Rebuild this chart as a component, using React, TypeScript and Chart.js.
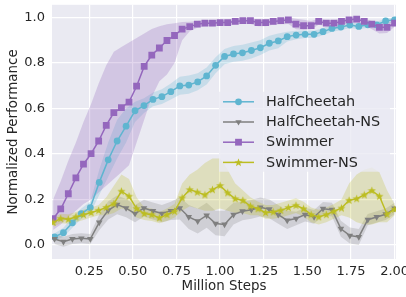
import React, { useEffect, useRef } from "react";
import { Chart, registerables } from "chart.js";

Chart.register(...registerables);

// ---------------- data ----------------
const SERIES_NAMES = ["HalfCheetah", "HalfCheetah-NS", "Swimmer", "Swimmer-NS"];
const X_TITLE = "Million Steps";
const Y_TITLE = "Normalized Performance";
const X_TICKS = [0.25, 0.5, 0.75, 1.0, 1.25, 1.5, 1.75, 2.0];
const Y_TICKS = [0.0, 0.2, 0.4, 0.6, 0.8, 1.0];

// HalfCheetah runs evaluated 39 times over 2M steps, Swimmer runs 46 times
const HC_EVALS = 39;
const SW_EVALS = 46;
const TOTAL_MILLION_STEPS = 2.0;

const hcPerf = [0.035, 0.054, 0.097, 0.138, 0.164, 0.275, 0.374, 0.457, 0.522, 0.590,
  0.613, 0.640, 0.652, 0.674, 0.699, 0.703, 0.717, 0.743, 0.790, 0.829,
  0.840, 0.845, 0.855, 0.867, 0.887, 0.897, 0.916, 0.923, 0.926, 0.926,
  0.938, 0.952, 0.958, 0.967, 0.961, 0.968, 0.968, 0.985, 0.990];
const hcLow = [0.02, 0.035, 0.075, 0.115, 0.14, 0.22, 0.30, 0.38, 0.45, 0.54,
  0.58, 0.61, 0.62, 0.64, 0.66, 0.665, 0.68, 0.705, 0.755, 0.795,
  0.805, 0.81, 0.82, 0.835, 0.855, 0.865, 0.895, 0.905, 0.91, 0.91,
  0.922, 0.937, 0.944, 0.954, 0.948, 0.955, 0.955, 0.972, 0.978];
const hcHigh = [0.05, 0.075, 0.12, 0.16, 0.19, 0.33, 0.45, 0.55, 0.60, 0.63,
  0.645, 0.67, 0.685, 0.71, 0.74, 0.745, 0.755, 0.78, 0.825, 0.862,
  0.875, 0.88, 0.89, 0.90, 0.92, 0.93, 0.937, 0.942, 0.943, 0.942,
  0.954, 0.967, 0.972, 0.98, 0.974, 0.981, 0.981, 0.996, 1.0];

const hcnsPerf = [0.026, 0.014, 0.026, 0.029, 0.026, 0.099, 0.152, 0.177, 0.162, 0.138,
  0.162, 0.149, 0.138, 0.150, 0.162, 0.123, 0.104, 0.130, 0.094, 0.090,
  0.133, 0.148, 0.155, 0.165, 0.157, 0.133, 0.108, 0.116, 0.133, 0.123,
  0.159, 0.155, 0.071, 0.041, 0.035, 0.111, 0.123, 0.135, 0.160];
const hcnsLow = [0.004, -0.008, 0.004, 0.007, 0.004, 0.064, 0.112, 0.135, 0.122, 0.100,
  0.125, 0.112, 0.10, 0.11, 0.112, 0.07, 0.05, 0.075, 0.042, 0.038,
  0.09, 0.108, 0.115, 0.125, 0.117, 0.093, 0.07, 0.086, 0.103, 0.093,
  0.129, 0.125, 0.036, 0.006, 0.0, 0.086, 0.098, 0.11, 0.135];
const hcnsHigh = [0.048, 0.036, 0.048, 0.051, 0.048, 0.134, 0.192, 0.217, 0.202, 0.176,
  0.199, 0.186, 0.176, 0.19, 0.21, 0.175, 0.16, 0.185, 0.15, 0.15,
  0.185, 0.19, 0.198, 0.208, 0.2, 0.175, 0.15, 0.146, 0.163, 0.153,
  0.189, 0.185, 0.106, 0.076, 0.07, 0.136, 0.148, 0.16, 0.185];

const swPerf = [0.115, 0.158, 0.225, 0.295, 0.355, 0.401, 0.457, 0.526, 0.582, 0.604,
  0.628, 0.698, 0.785, 0.835, 0.866, 0.899, 0.921, 0.949, 0.960, 0.971,
  0.975, 0.975, 0.978, 0.978, 0.983, 0.986, 0.986, 0.978, 0.978, 0.983,
  0.986, 0.990, 0.971, 0.964, 0.964, 0.983, 0.975, 0.975, 0.983, 0.990,
  0.993, 0.983, 0.971, 0.957, 0.957, 0.975];
const swLow = [0.065, 0.09, 0.12, 0.15, 0.18, 0.20, 0.23, 0.26, 0.29, 0.32,
  0.35, 0.45, 0.55, 0.65, 0.72, 0.75, 0.80, 0.90, 0.94, 0.955,
  0.962, 0.962, 0.965, 0.965, 0.97, 0.972, 0.972, 0.962, 0.962, 0.968,
  0.97, 0.972, 0.948, 0.945, 0.948, 0.968, 0.962, 0.962, 0.97, 0.975,
  0.978, 0.965, 0.948, 0.93, 0.932, 0.96];
const swHigh = [0.20, 0.28, 0.37, 0.45, 0.54, 0.62, 0.71, 0.79, 0.85, 0.87,
  0.89, 0.91, 0.93, 0.95, 0.962, 0.97, 0.975, 0.98, 0.982, 0.985,
  0.988, 0.988, 0.99, 0.99, 0.995, 0.998, 0.998, 0.99, 0.99, 0.995,
  0.998, 1.0, 0.995, 0.99, 0.985, 0.995, 0.988, 0.988, 0.995, 1.0,
  1.003, 0.995, 0.985, 0.975, 0.975, 0.99];

const swnsPerf = [0.099, 0.116, 0.113, 0.123, 0.133, 0.142, 0.152, 0.165, 0.181, 0.236,
  0.214, 0.160, 0.138, 0.133, 0.119, 0.133, 0.148, 0.207, 0.243, 0.232,
  0.220, 0.243, 0.261, 0.229, 0.203, 0.196, 0.171, 0.159, 0.142, 0.145,
  0.152, 0.164, 0.174, 0.159, 0.133, 0.123, 0.133, 0.148, 0.162, 0.196,
  0.203, 0.220, 0.239, 0.214, 0.135, 0.157];
const swnsLow = [0.08, 0.095, 0.093, 0.10, 0.11, 0.12, 0.13, 0.13, 0.14, 0.16,
  0.15, 0.12, 0.11, 0.105, 0.095, 0.105, 0.12, 0.15, 0.17, 0.16,
  0.15, 0.15, 0.16, 0.15, 0.14, 0.14, 0.13, 0.13, 0.115, 0.115,
  0.12, 0.13, 0.14, 0.125, 0.10, 0.09, 0.10, 0.115, 0.13, 0.12,
  0.10, 0.09, 0.09, 0.10, 0.10, 0.13];
const swnsHigh = [0.12, 0.137, 0.135, 0.145, 0.155, 0.165, 0.175, 0.21, 0.26, 0.31,
  0.29, 0.21, 0.165, 0.16, 0.145, 0.16, 0.18, 0.27, 0.31, 0.33,
  0.36, 0.38, 0.38, 0.33, 0.27, 0.24, 0.21, 0.19, 0.175, 0.175,
  0.185, 0.195, 0.205, 0.19, 0.165, 0.155, 0.165, 0.18, 0.20, 0.27,
  0.31, 0.33, 0.34, 0.32, 0.24, 0.18];

// ---------------- styles ----------------
const COLORS = ["#5fb5d0", "#7f7f7f", "#9467bd", "#bcbd22"];
const BAND_COLORS = [
  "rgba(95,181,208,0.25)",
  "rgba(127,127,127,0.25)",
  "rgba(148,103,189,0.27)",
  "rgba(188,189,34,0.25)",
];
const TEXT = "#262626";
const AXES_BG = "#EAEAF2";
const FONT = "'DejaVu Sans', sans-serif";

function makeStar(color: string, size: number) {
  const c = document.createElement("canvas");
  c.width = size;
  c.height = size;
  const g = c.getContext("2d")!;
  const cx = size / 2, cy = size / 2 + 0.3;
  const R = size / 2 - 0.2, r = R * 0.42;
  g.beginPath();
  for (let k = 0; k < 10; k++) {
    const a = -Math.PI / 2 + (k * Math.PI) / 5;
    const rr = k % 2 === 0 ? R : r;
    g.lineTo(cx + rr * Math.cos(a), cy + rr * Math.sin(a));
  }
  g.closePath();
  g.fillStyle = color;
  g.fill();
  return c;
}

function toPoints(values: number[], evals: number) {
  return values.map((y, i) => ({ x: (TOTAL_MILLION_STEPS * (i + 1)) / evals, y }));
}

function drawMarker(ctx: CanvasRenderingContext2D, kind: number, x: number, y: number, color: string, star: HTMLCanvasElement) {
  ctx.fillStyle = color;
  ctx.beginPath();
  if (kind === 0) {
    ctx.arc(x, y, 3.4, 0, Math.PI * 2);
    ctx.fill();
  } else if (kind === 1) {
    const r = 3.6;
    ctx.moveTo(x, y + r);
    ctx.lineTo(x - r * 0.866, y - r * 0.5);
    ctx.lineTo(x + r * 0.866, y - r * 0.5);
    ctx.closePath();
    ctx.fill();
  } else if (kind === 2) {
    ctx.rect(x - 3.4, y - 3.4, 6.8, 6.8);
    ctx.fill();
  } else {
    ctx.drawImage(star, x - star.width / 2, y - star.height / 2);
  }
}

export default function App() {
  const ref = useRef<HTMLCanvasElement | null>(null);

  useEffect(() => {
    if (!ref.current) return;
    const star = makeStar(COLORS[3], 9);

    const bgPlugin = {
      id: "axesBg",
      beforeDraw(chart: any) {
        const { ctx, chartArea: a } = chart;
        ctx.save();
        ctx.fillStyle = "#ffffff";
        ctx.fillRect(0, 0, chart.width, chart.height);
        ctx.fillStyle = AXES_BG;
        ctx.fillRect(a.left, a.top, a.right - a.left, a.bottom - a.top);
        ctx.restore();
      },
    };

    const legendPlugin = {
      id: "innerLegend",
      afterDatasetsDraw(chart: any) {
        const { ctx, chartArea: a } = chart;
        ctx.save();
        const bx = a.right - 177, by = a.top + 87, bw = 171, bh = 80;
        ctx.fillStyle = "rgba(234,234,242,0.8)";
        ctx.beginPath();
        ctx.rect(bx, by, bw, bh);
        ctx.fill();
        ctx.font = `14.4px ${FONT}`;
        ctx.textBaseline = "middle";
        ctx.textAlign = "left";
        SERIES_NAMES.forEach((name, k) => {
          const y = by + 10 + k * 20.2;
          const x0 = bx + 4;
          ctx.strokeStyle = COLORS[k];
          ctx.lineWidth = 1.5;
          ctx.beginPath();
          ctx.moveTo(x0, y);
          ctx.lineTo(x0 + 31, y);
          ctx.stroke();
          drawMarker(ctx, k, x0 + 15.5, y, COLORS[k], star);
          ctx.fillStyle = TEXT;
          ctx.fillText(name, x0 + 43, y + 0.5);
        });
        ctx.restore();
      },
    };

    const band = (low: number[], high: number[], evals: number, k: number, order: number) => [
      {
        data: toPoints(low, evals),
        borderColor: "transparent",
        backgroundColor: "transparent",
        pointRadius: 0,
        fill: false,
        order,
      },
      {
        data: toPoints(high, evals),
        borderColor: "transparent",
        backgroundColor: BAND_COLORS[k],
        pointRadius: 0,
        fill: "-1",
        order,
      },
    ];

    const line = (vals: number[], evals: number, k: number, order: number, pointStyle: any, radius: number, rotation = 0) => ({
      label: SERIES_NAMES[k],
      data: toPoints(vals, evals),
      borderColor: COLORS[k],
      backgroundColor: COLORS[k],
      borderWidth: 1.5,
      pointStyle,
      pointRadius: radius,
      pointRotation: rotation,
      pointBorderWidth: 0,
      pointBackgroundColor: COLORS[k],
      pointBorderColor: COLORS[k],
      fill: false,
      tension: 0,
      order,
    });

    const chart = new Chart(ref.current, {
      type: "line",
      data: {
        datasets: [
          ...band(hcLow, hcHigh, HC_EVALS, 0, 14),
          ...band(hcnsLow, hcnsHigh, HC_EVALS, 1, 13),
          ...band(swLow, swHigh, SW_EVALS, 2, 12),
          ...band(swnsLow, swnsHigh, SW_EVALS, 3, 11),
          line(hcPerf, HC_EVALS, 0, 4, "circle", 3.4),
          line(hcnsPerf, HC_EVALS, 1, 3, "triangle", 3.8, 180),
          line(swPerf, SW_EVALS, 2, 2, "rect", 4.8),
          line(swnsPerf, SW_EVALS, 3, 1, star, 4),
        ] as any,
      },
      options: {
        responsive: false,
        animation: false,
        events: [],
        layout: { padding: { left: 0, right: 10, top: 2, bottom: 0 } },
        plugins: {
          legend: { display: false },
          tooltip: { enabled: false },
        },
        scales: {
          x: {
            type: "linear",
            min: 0.037,
            max: 2.008,
            afterBuildTicks: (s: any) => {
              s.ticks = X_TICKS.map((v) => ({ value: v }));
            },
            afterFit: (s: any) => {
              s.height = 38;
              s.paddingLeft = 0;
              s.paddingRight = 0;
            },
            grid: { color: "#ffffff", lineWidth: 1.2, drawTicks: false },
            border: { display: false },
            ticks: {
              autoSkip: false,
              maxRotation: 0,
              padding: 5,
              color: TEXT,
              font: { family: FONT, size: 13 },
              callback: (v: any) => Number(v).toFixed(2),
            },
            title: {
              display: true,
              text: X_TITLE,
              color: TEXT,
              font: { family: FONT, size: 13.4 },
              padding: { top: 0, bottom: 2 },
            },
          },
          y: {
            type: "linear",
            min: -0.062,
            max: 1.056,
            afterBuildTicks: (s: any) => {
              s.ticks = Y_TICKS.map((v) => ({ value: v }));
            },
            afterFit: (s: any) => {
              s.width = 52;
              s.paddingTop = 0;
              s.paddingBottom = 0;
            },
            grid: { color: "#ffffff", lineWidth: 1.2, drawTicks: false },
            border: { display: false },
            ticks: {
              autoSkip: false,
              padding: 7,
              color: TEXT,
              font: { family: FONT, size: 13 },
              callback: (v: any) => Number(v).toFixed(1),
            },
            title: {
              display: true,
              text: Y_TITLE,
              color: TEXT,
              font: { family: FONT, size: 13.4 },
              padding: { top: 5, bottom: 0 },
            },
          },
        },
      },
      plugins: [bgPlugin, legendPlugin],
    });

    return () => chart.destroy();
  }, []);

  return (
    <div style={{ position: "fixed", left: 0, top: 0, width: 406, height: 297, background: "#fff" }}>
      <canvas ref={ref} width={406} height={297} style={{ display: "block", width: 406, height: 297 }} />
    </div>
  );
}
